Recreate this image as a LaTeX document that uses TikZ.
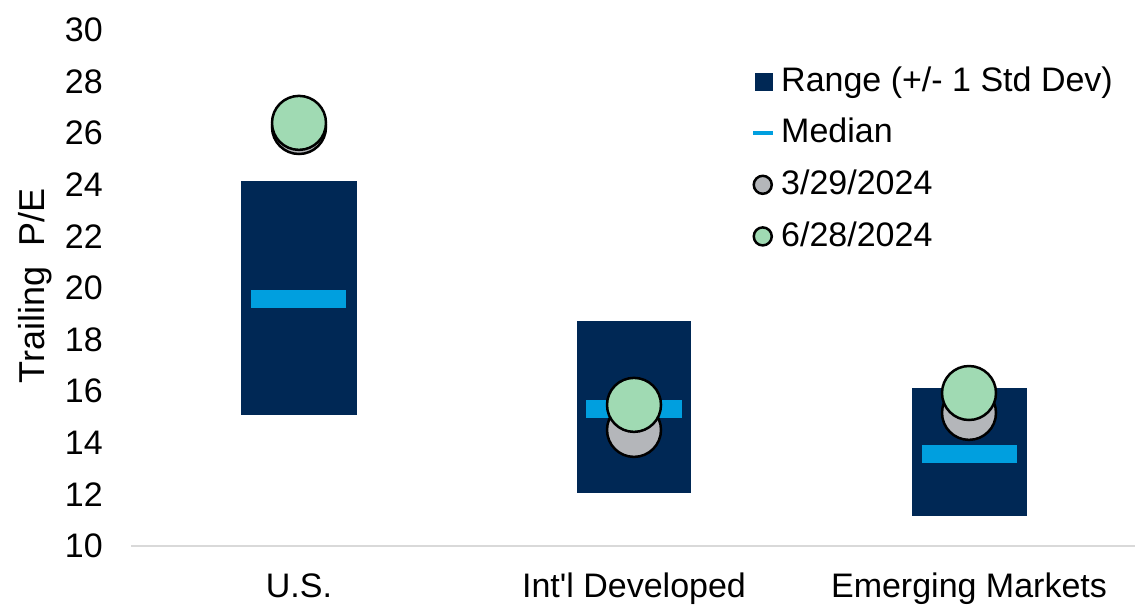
\documentclass[tikz,border=0pt]{standalone}
\usepackage{fontspec}
\setmainfont{Liberation Sans}
\usetikzlibrary{positioning}
\definecolor{rangeblue}{RGB}{0,40,85}
\definecolor{medianblue}{RGB}{0,159,223}
\definecolor{junegreen}{RGB}{160,218,179}
\definecolor{marchgrey}{RGB}{180,182,186}
\definecolor{axisgrey}{RGB}{217,217,217}

\begin{document}
\begin{tikzpicture}[
    x = 1pt, % one pixel across
    y = 25.8pt, % one P/E point up
    font = \fontsize{34}{40}\selectfont,
    inner sep = 0pt
    ]

    \tikzset{
    rangebar/.style = {fill = rangeblue},
    medianbar/.style = {fill = medianblue},
    marchdot/.style = {draw = black, line width = 2.5pt, fill = marchgrey},
    junedot/.style = {draw = black, line width = 2.5pt, fill = junegreen},
    keytext/.style = {anchor = west, text height = 24.5pt, text depth = 5pt}
    }

    \useasboundingbox (0,7.752) rectangle (1135,31.163);

    % axis and tick labels
    \draw[axisgrey, line width = 2pt] (131,10) -- (1135,10);
    \node[anchor=east] (t10) at (103,10) {10};
    \node[anchor=east] (t12) at (103,12) {12};
    \node[anchor=east] (t14) at (103,14) {14};
    \node[anchor=east] (t16) at (103,16) {16};
    \node[anchor=east] (t18) at (103,18) {18};
    \node[anchor=east] (t20) at (103,20) {20};
    \node[anchor=east] (t22) at (103,22) {22};
    \node[anchor=east] (t24) at (103,24) {24};
    \node[anchor=east] (t26) at (103,26) {26};
    \node[anchor=east] (t28) at (103,28) {28};
    \node[anchor=east] (t30) at (103,30) {30};
    \node[rotate=90, font=\fontsize{36}{42}\selectfont] (ytitle) at (35,20.08) {Trailing\ \ P/E};

    % U.S.
    \fill[rangebar] (241,15.08) rectangle (357,24.15);
    \fill[medianbar] (251,19.22) rectangle (346,19.92);
    \draw[marchdot] (299,26.24) circle[radius=27pt];
    \draw[junedot] (299,26.4) circle[radius=27pt];
    \node[anchor=base] (us) at (299,8.02) {U.S.};

    % Int'l Developed
    \fill[rangebar] (577,12.05) rectangle (691,18.72);
    \fill[medianbar] (586,14.96) rectangle (682,15.66);
    \draw[marchdot] (634,14.5) circle[radius=27pt];
    \draw[junedot] (634,15.47) circle[radius=27pt];
    \node[anchor=base] (intl) at (634,8.02) {Int\textquotesingle l Developed};

    % Emerging Markets
    \fill[rangebar] (912,11.16) rectangle (1027,16.12);
    \fill[medianbar] (922,13.22) rectangle (1017,13.92);
    \draw[marchdot] (969,15.16) circle[radius=27pt];
    \draw[junedot] (969,15.93) circle[radius=27pt];
    \node[anchor=base] (em) at (969,8.02) {Emerging Markets};

    % legend
    \node[keytext] (lgrange) at (781,28) {Range (+/- 1 Std Dev)};
    \node[keytext] (lgmedian) at (781,26) {Median};
    \node[keytext] (lgmarch) at (781,24) {3/29/2024};
    \node[keytext] (lgjune) at (781,22) {6/28/2024};
    \node[rangebar, minimum size = 18pt, left = 8pt of lgrange] (kyrange) {};
    \node[medianbar, minimum width = 20pt, minimum height = 4pt, left = 8pt of lgmedian] (kymedian) {};
    \node[marchdot, circle, minimum size = 18pt, left = 8pt of lgmarch] (kymarch) {};
    \node[junedot, circle, minimum size = 18pt, left = 8pt of lgjune] (kyjune) {};

    \end{tikzpicture}
\end{document}
